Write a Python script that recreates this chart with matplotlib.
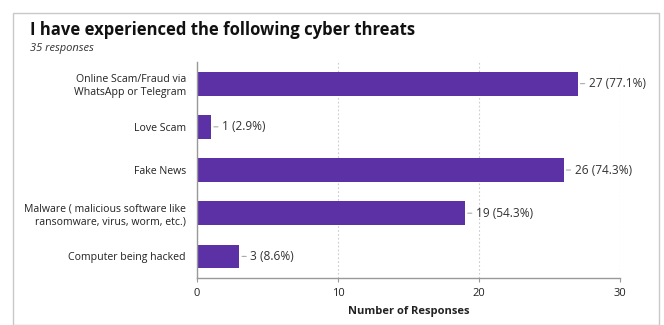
import matplotlib
matplotlib.use("Agg")
import matplotlib.pyplot as plt
from matplotlib.patches import Rectangle

categories = [
    "Online Scam/Fraud via\nWhatsApp or Telegram",
    "Love Scam",
    "Fake News",
    "Malware ( malicious software like\nransomware, virus, worm, etc.)",
    "Computer being hacked",
]
counts = [27, 1, 26, 19, 3]
percents = [77.1, 2.9, 74.3, 54.3, 8.6]
xticks = [0, 10, 20, 30]

plt.rcParams["font.family"] = ["Open Sans", "DejaVu Sans"]

fig = plt.figure(figsize=(6.64, 3.25), dpi=100)
fig.patches.append(Rectangle((13 / 664, 0), 646 / 664, 1 - 13 / 325,
                             transform=fig.transFigure, fill=False,
                             edgecolor="#c8c8c8", linewidth=1))

ax = fig.add_axes([0.2967, 0.1446, 0.637, 0.6645])
pos = list(range(len(categories)))
ax.barh(pos, counts, height=0.55, color="#5b31a5")
ax.set_ylim(len(categories) - 0.5, -0.5)
ax.set_xlim(0, 30)

for p, c, pc in zip(pos, counts, percents):
    ax.annotate(f"{c} ({pc}%)", xy=(c, p), xytext=(8, 0),
                textcoords="offset points", va="center", ha="left",
                fontsize=8.6, color="#333333",
                arrowprops=dict(arrowstyle="-", color="#aaaaaa", lw=0.8,
                                shrinkA=1, shrinkB=2))

ax.set_yticks(pos)
ax.set_yticklabels(categories, fontsize=7.6, color="#222222")
ax.set_xticks(xticks)
ax.set_xticklabels([str(t) for t in xticks], fontsize=8, color="#222222")
ax.tick_params(axis="y", length=0, pad=8)
ax.tick_params(axis="x", length=3, color="#999999", pad=4)
ax.grid(axis="x", linestyle=(0, (1.5, 2)), color="#cccccc", linewidth=0.8)
ax.set_axisbelow(True)
for s in ["top", "right"]:
    ax.spines[s].set_visible(False)
for s in ["left", "bottom"]:
    ax.spines[s].set_color("#999999")
    ax.spines[s].set_linewidth(1)

ax.set_xlabel("Number of Responses", fontsize=8, fontweight="bold",
              color="#222222", labelpad=5)

fig.text(30 / 664, 1 - 30 / 325, "I have experienced the following cyber threats",
         fontsize=12, fontweight="bold", color="#111111", va="center")
fig.text(30 / 664, 1 - 48 / 325, "35 responses", fontsize=8,
         style="italic", color="#333333", va="center")

fig.savefig("out.png", dpi=100)
